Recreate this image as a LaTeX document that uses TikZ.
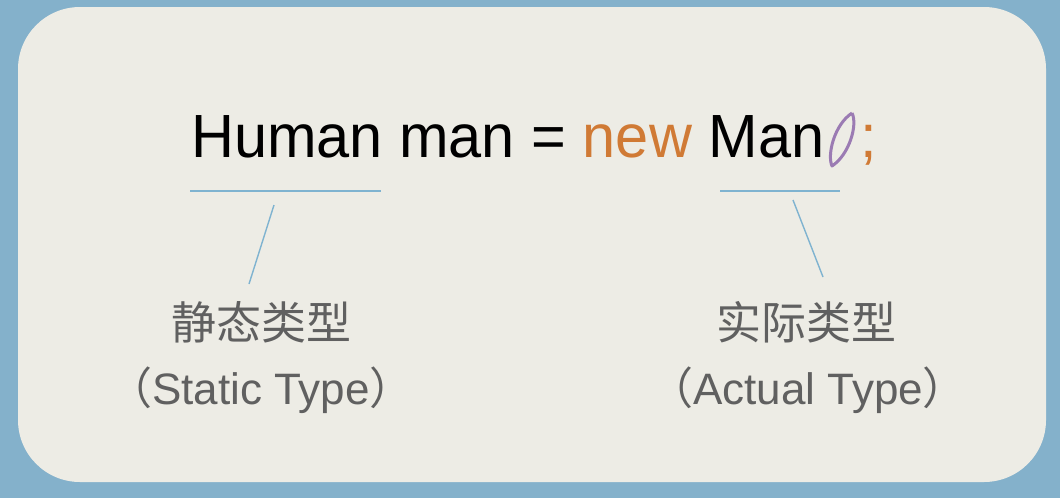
\documentclass[tikz,border=0pt]{standalone}
\usepackage{fontspec}
\setmainfont{Liberation Sans}
\newfontfamily\codefont[FakeStretch=0.975]{Liberation Sans}
\newfontfamily\cjk{Noto Sans CJK SC}
\definecolor{bgblue}{HTML}{84B1CB}
\definecolor{card}{HTML}{EDECE5}
\definecolor{lineblue}{HTML}{7FB3D0}
\definecolor{kworange}{HTML}{D07A35}
\definecolor{parpurple}{HTML}{9B7BB3}
\definecolor{labgray}{HTML}{606060}
\tikzset{
  underline/.style={draw=lineblue, line width=1.6pt},
  pointer/.style={draw=lineblue, line width=1.4pt},
  code/.style={font=\codefont\fontsize{61}{70}\selectfont, inner sep=0pt, anchor=base west},
  cnlabel/.style={font=\cjk\fontsize{45}{52}\selectfont, text=labgray, inner sep=0pt, anchor=base},
  enlabel/.style={font=\fontsize{44}{50}\selectfont, text=labgray, inner sep=0pt, anchor=base},
}
\begin{document}
\begin{tikzpicture}[x=1pt,y=-1pt]
\useasboundingbox (0,0) rectangle (1060,498);
\fill[bgblue] (0,0) rectangle (1060,498);
\fill[card, rounded corners=62pt] (18,7) rectangle (1046,482);
% code line
\node[code] (code) at (191,157) {Human man = \textcolor{kworange}{new} Man};
\draw[parpurple, line width=3pt, line join=round]
  (852,113) .. controls (834,125) and (827,155) .. (832,166)
  .. controls (849,155) and (858,125) .. (852,113);
\node[code, text=kworange] (semi) at (860,157) {;};
% underlines
\coordinate (l1) at (190,191); \coordinate (l2) at (381,191);
\coordinate (r1) at (720,191); \coordinate (r2) at (840,191);
\draw[underline] (l1) -- (l2);
\draw[underline] (r1) -- (r2);
% pointers
\coordinate (pl1) at (274,205); \coordinate (pl2) at (249,284);
\coordinate (pr1) at (793,200); \coordinate (pr2) at (823,277);
\draw[pointer] (pl1) -- (pl2);
\draw[pointer] (pr1) -- (pr2);
% labels
\node[cnlabel] (static) at (261,339) {静态类型};
\node[enlabel] (staticen) at (261,404) {{\cjk （}Static Type{\cjk ）}};
\node[cnlabel] (actual) at (806,339) {实际类型};
\node[enlabel] (actualen) at (808,404) {{\cjk （}Actual Type{\cjk ）}};
\end{tikzpicture}
\end{document}
